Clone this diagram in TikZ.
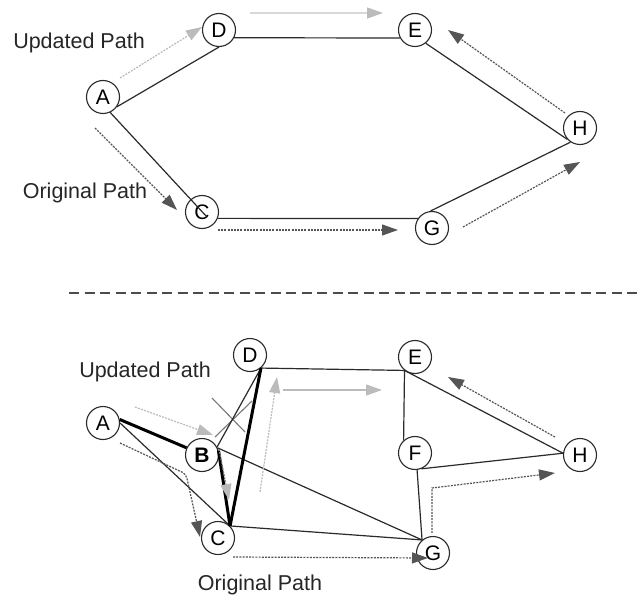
\documentclass[tikz,border=0pt]{standalone}
\usepackage{fontspec}
\setmainfont{Liberation Sans}
\usetikzlibrary{arrows.meta}
\definecolor{edgecol}{HTML}{2A2A2A}
\definecolor{darkarr}{HTML}{555555}
\definecolor{lightarr}{HTML}{BBBBBB}
\definecolor{palearr}{HTML}{D8D8D8}
\definecolor{crosscol}{HTML}{777777}
\tikzset{
  nd/.style={circle,draw=edgecol,line width=1.1pt,fill=white,minimum size=33pt,inner sep=0pt,
    font=\fontsize{21}{21}\selectfont},
  link/.style={draw=edgecol,line width=1.2pt},
  heavy/.style={draw=black,line width=3pt},
  lbl/.style={font=\fontsize{21.5}{22}\selectfont,inner sep=0pt,text=black!85},
  darkflow/.style={-{Triangle[length=16pt,width=11pt]},draw=darkarr,line width=1.2pt,dash pattern=on 2pt off 1.2pt},
  lightflow/.style={-{Triangle[length=16pt,width=11pt]},draw=lightarr,line width=1.2pt,dash pattern=on 2pt off 1.2pt},
  lightsolid/.style={-{Triangle[length=16pt,width=11pt,color=lightarr]},draw=palearr,line width=1.2pt},
  grayflow/.style={-{Triangle[length=16pt,width=11pt,color=lightarr]},draw=crosscol,line width=1.2pt,dash pattern=on 2pt off 1.2pt},
}
\begin{document}
\begin{tikzpicture}[x=1pt,y=-1pt]
\useasboundingbox[fill=white] (0,0) rectangle (639,596);

% ---------- upper network ----------
\node[nd] (A) at (103,97) {A};
\node[nd] (D) at (219,30) {D};
\node[nd] (E) at (415,30) {E};
\node[nd] (H) at (580,128) {H};
\node[nd] (C) at (202,212) {C};
\node[nd] (G) at (432,228) {G};

\draw[link] (A.-35) -- (D.south);
\draw[link] (D.-27) -- (E.-152);
\draw[link] (E.-51) -- (H.-138);
\draw[link] (H.-124) -- (G.95);
\draw[link] (C.-22) -- (G.146);
\draw[link] (A.-65) -- ([shift={(5pt,-5pt)}]C.center);

% flows
\draw[lightflow] (120,78) -- (202,27);
\draw[lightsolid] (250,13) -- (383,13);
\draw[darkflow] (95,128) -- (177,210);
\draw[darkflow] (218,230) -- (398,230);
\draw[darkflow] (463,227) -- (580,162);
\draw[darkflow] (565,113) -- (448,30);

\node[lbl] (up1) at (79,43) {Updated Path};
\node[lbl] (or1) at (85,193) {Original Path};

% separator
\draw[draw=black!70,line width=1.8pt,dash pattern=on 10pt off 5.5pt] (69,293) -- (639,293);

% ---------- lower network ----------
\node[nd] (A2) at (103,423) {A};
\node[nd] (D2) at (250,355) {D};
\node[nd,font=\fontsize{21}{21}\selectfont\bfseries] (B2) at (202,455) {B};
\node[nd] (C2) at (218,538) {C};
\node[nd] (E2) at (415,357) {E};
\node[nd] (F2) at (415,453) {F};
\node[nd] (H2) at (580,455) {H};
\node[nd] (G2) at (433,553) {G};

% crossed-out strokes
\draw[crosscol,line width=1.1pt] (212,398) -- (245,432);
\draw[crosscol,line width=1.1pt] (215,437) -- (252,401);

\draw[link] (A2.0) -- (C2.45);
\draw[link] (B2.28) -- (D2.-50);
\draw[link] (B2.25) -- (G2.130);
\draw[link] (C2.45) -- (G2.130);
\draw[link] (D2.-50) -- (E2.-128);
\draw[link] (E2.-128) -- (F2.132);
\draw[link] (E2.-128) -- (H2.174);
\draw[link] (F2.-68) -- (H2.174);
\draw[link] (F2.-83) -- (G2.130);
\draw[heavy] (A2.12) -- (B2.155);
\draw[heavy] (B2.15) -- (C2.45);
\draw[heavy] (C2.45) -- (D2.-50);

% flows
\draw[lightflow] (135,407) -- (213,435);
\draw[darkflow,rounded corners=4pt] (120,443) -- (186,474) -- (200,537);
\draw[grayflow] (219,449) -- (229,500);
\draw[lightflow] (260,492) -- (277,377);
\draw[lightsolid,draw=lightarr] (283,390) -- (382,390);
\draw[darkflow] (233,557) -- (428,558);
\draw[darkflow] (432,533) -- (432,488) -- (555,473);
\draw[darkflow] (555,437) -- (448,377);

\node[lbl] (up2) at (145,372) {Updated Path};
\node[lbl] (or2) at (260,585) {Original Path};
\end{tikzpicture}
\end{document}
